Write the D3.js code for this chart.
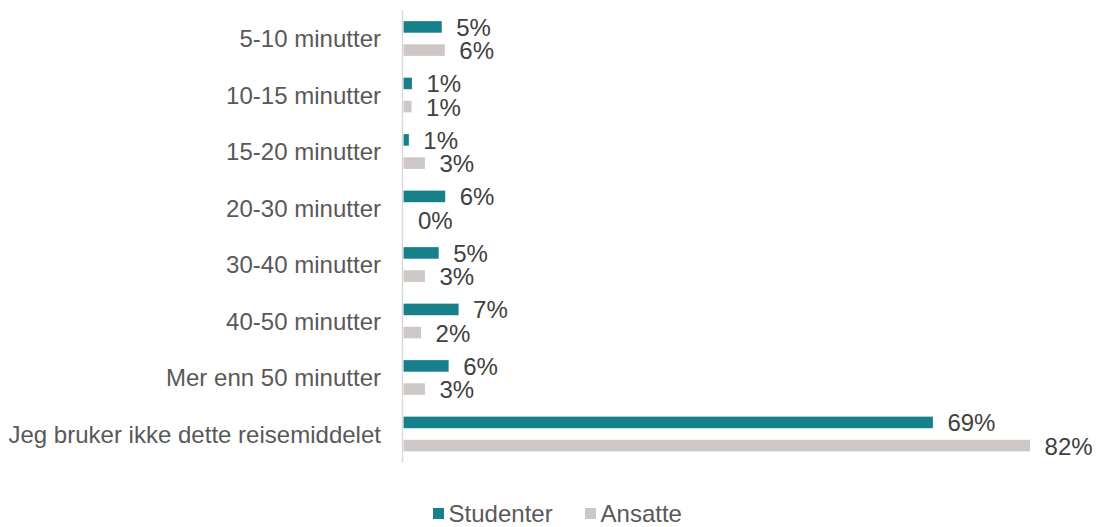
<!DOCTYPE html>
<html><head><meta charset="utf-8">
<script src="https://cdn.jsdelivr.net/npm/d3@7"></script>
<style>body{margin:0;background:#fff}svg{display:block}text{font-family:"Liberation Sans",Arial,sans-serif}</style>
</head><body><svg id="c" width="1102" height="527"></svg>
<script>
const categories = ["5-10 minutter","10-15 minutter","15-20 minutter","20-30 minutter","30-40 minutter","40-50 minutter","Mer enn 50 minutter","Jeg bruker ikke dette reisemiddelet"];
const seriesNames = ["Studenter","Ansatte"];
const studenter = [5.0, 1.1, 0.7, 5.45, 4.6, 7.2, 5.9, 69.2];
const ansatte = [5.4, 1.05, 2.8, 0, 2.8, 2.3, 2.8, 81.9];
const studenterLabels = ["5%","1%","1%","6%","5%","7%","6%","69%"];
const ansatteLabels = ["6%","1%","3%","0%","3%","2%","3%","82%"];
const colors = ["#17808a","#cdc8c5"];

const FS = 23;
const SX = 1.045; // slight horizontal text stretch seen in the reference
const svg = d3.select("#c");
const x = d3.scaleLinear().domain([0,100]).range([403.5, 403.5+765]);
const y = d3.scaleBand().domain(categories).range([10.25, 462.25]).padding(0);
const ys = d3.scaleBand().domain(seriesNames).range([0, y.bandwidth()]).paddingInner(0.5).paddingOuter(0.47);

const series = [
  {name: seriesNames[0], values: studenter, labels: studenterLabels, color: colors[0]},
  {name: seriesNames[1], values: ansatte, labels: ansatteLabels, color: colors[1]}
];

// category axis
const yAxis = d3.axisLeft(y).tickSize(0).tickPadding(0);
const gy = svg.append("g").attr("transform","translate(381,0)").call(yAxis);
gy.select(".domain").remove();
gy.selectAll(".tick").attr("transform", d => `translate(0,${y(d) + y.bandwidth()/2})`);
gy.selectAll("text").attr("fill","#595959").attr("font-size", FS + "px")
  .attr("dy",null).attr("x",0).attr("y",0)
  .attr("transform", `translate(0,8.5) scale(${SX},1)`)
  .attr("font-family",'"Liberation Sans",Arial,sans-serif');

// bars
series.forEach(s => {
  const g = svg.append("g");
  g.selectAll("rect").data(categories).join("rect")
    .attr("x", x(0))
    .attr("y", (c) => y(c) + ys(s.name))
    .attr("width", (c,i) => Math.max(0, x(s.values[i]) - x(0)))
    .attr("height", ys.bandwidth())
    .attr("fill", s.color);
  g.selectAll("text").data(categories).join("text")
    .attr("transform", (c,i) => `translate(${x(s.values[i]) + 14.5},${y(c) + ys(s.name) + ys.bandwidth()/2 + 9}) scale(${SX},1)`)
    .attr("fill","#404040").attr("font-size", FS + "px")
    .text((c,i) => s.labels[i]);
});

// vertical axis line
svg.append("line").attr("x1",402.5).attr("x2",402.5).attr("y1",10).attr("y2",462.5)
  .attr("stroke","#d9d9d9").attr("stroke-width",1.5);

// legend
const legend = svg.append("g");
const legX = [433, 585];
series.forEach((s,i) => {
  legend.append("rect").attr("x", legX[i]).attr("y", 508).attr("width", 11).attr("height", 11).attr("fill", s.color);
  legend.append("text").attr("transform", `translate(${legX[i] + 15.5},521.5) scale(${SX},1)`)
    .attr("fill","#595959").attr("font-size", FS + "px").text(s.name);
});
</script></body></html>
